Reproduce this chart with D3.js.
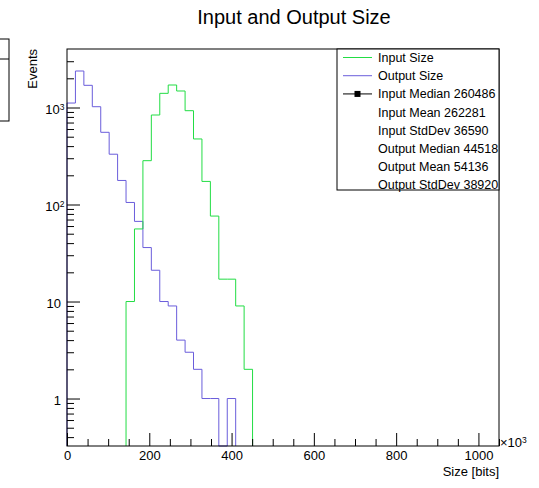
<!DOCTYPE html>
<html>
<head>
<meta charset="utf-8">
<script src="https://cdn.jsdelivr.net/npm/d3@7"></script>
<style>
  body { margin: 0; background: #fff; }
  svg { font-family: "Liberation Sans", Arial, sans-serif; }
</style>
</head>
<body>
<div id="chart"></div>
<script>
// histogram bins, x in thousands of bits
const binWidth = 20.5;
const outputStart = 0;   // first bin index
const outputCounts = [1112, 2378, 1693, 1019, 555, 330, 177, 105, 67, 36, 21, 10, 9, 4, 3, 2, 1, 1, 0, 1];
const inputStart = 7;
const inputCounts = [10, 56, 283, 837, 1400, 1706, 1480, 927, 474, 173, 76, 17, 17, 9, 2];

const xMajorTicks = [0, 200, 400, 600, 800, 1000];
const yMajorTicks = [1, 10, 100, 1000];
const yTickLabels = ["1", "10", "10|2", "10|3"];

const legendEntries = [
  { label: "Input Size", kind: "line", color: "#22dd44" },
  { label: "Output Size", kind: "line", color: "#6a5ddb" },
  { label: "Input Median 260486", kind: "marker", color: "#000" },
  { label: "Input Mean 262281", kind: "none" },
  { label: "Input StdDev 36590", kind: "none" },
  { label: "Output Median 44518", kind: "none" },
  { label: "Output Mean 54136", kind: "none" },
  { label: "Output StdDev 38920", kind: "none" }
];

const width = 539, height = 488;
const frame = { left: 67, right: 499, top: 49, bottom: 446 };

const svg = d3.select("#chart").append("svg")
  .attr("width", width)
  .attr("height", height);

const x = d3.scaleLinear().domain([0, 1050]).range([frame.left, frame.right]);
const y = d3.scaleLog().domain([0.324, 4010]).range([frame.bottom, frame.top]);

// Title
svg.append("text")
  .attr("x", 294).attr("y", 24)
  .attr("text-anchor", "middle")
  .style("font-size", "20px")
  .text("Input and Output Size");

// piece of a stats box cut off at the left edge
svg.append("rect")
  .attr("x", -2).attr("y", 39).attr("width", 11).attr("height", 82)
  .attr("fill", "#fff").attr("stroke", "#000");
svg.append("line")
  .attr("x1", 0).attr("x2", 9).attr("y1", 59).attr("y2", 59)
  .attr("stroke", "#000");

// step path for a histogram
function stepPath(start, counts) {
  const yb = frame.bottom;
  const pts = [[x(start * binWidth), yb]];
  counts.forEach((c, i) => {
    const lo = (start + i) * binWidth, hi = lo + binWidth;
    const yy = c > 0 ? y(c) : yb;
    pts.push([x(lo), yy], [x(hi), yy]);
  });
  pts.push([x((start + counts.length) * binWidth), yb]);
  return d3.line()(pts);
}

svg.append("path")
  .attr("d", stepPath(outputStart, outputCounts))
  .attr("fill", "none")
  .attr("stroke", "#6a5ddb")
  .attr("stroke-width", 1);

svg.append("path")
  .attr("d", stepPath(inputStart, inputCounts))
  .attr("fill", "none")
  .attr("stroke", "#22dd44")
  .attr("stroke-width", 1);

// X axis: ticks point up into the frame
const xMinor = d3.range(0, 1051, 50).filter(d => !xMajorTicks.includes(d));
svg.append("g")
  .attr("transform", `translate(0,${frame.bottom})`)
  .call(d3.axisBottom(x).tickValues(xMinor).tickSize(-7).tickFormat(""))
  .call(g => g.select(".domain").remove());
svg.append("g")
  .attr("transform", `translate(0,${frame.bottom})`)
  .call(d3.axisBottom(x).tickValues(xMajorTicks).tickSize(-13).tickPadding(5).tickFormat(d3.format("d")))
  .call(g => g.select(".domain").remove())
  .call(g => g.selectAll("text").style("font-size", "13px").attr("fill", "#000"));

// Y axis
const yMinor = [];
[0.1, 1, 10, 100, 1000].forEach(dec => {
  for (let k = 2; k <= 9; k++) {
    const v = dec * k;
    if (v > 0.324 && v < 3990) yMinor.push(v);
  }
});
svg.append("g")
  .attr("transform", `translate(${frame.left},0)`)
  .call(d3.axisLeft(y).tickValues(yMinor).tickSize(-7).tickFormat(""))
  .call(g => g.select(".domain").remove());
const yAxis = svg.append("g")
  .attr("transform", `translate(${frame.left},0)`)
  .call(d3.axisLeft(y).tickValues(yMajorTicks).tickSize(-13).tickPadding(5).tickFormat(""))
  .call(g => g.select(".domain").remove());
yAxis.selectAll(".tick text").each(function (d, i) {
  const parts = yTickLabels[i].split("|");
  const t = d3.select(this)
    .attr("fill", "#000")
    .attr("x", parts.length > 1 ? -2.5 : -6)
    .attr("dy", "0.45em")
    .style("font-size", "13px");
  t.append("tspan").text(parts[0]);
  if (parts.length > 1) {
    t.append("tspan").attr("dy", "-0.5em").style("font-size", "8.5px").text(parts[1]);
  }
});

// frame
svg.append("rect")
  .attr("x", frame.left).attr("y", frame.top)
  .attr("width", frame.right - frame.left).attr("height", frame.bottom - frame.top)
  .attr("fill", "none").attr("stroke", "#000");

// axis titles
svg.append("text")
  .attr("transform", `translate(37,${frame.top}) rotate(-90)`)
  .attr("text-anchor", "end")
  .style("font-size", "13px")
  .text("Events");

svg.append("text")
  .attr("x", frame.right).attr("y", 476)
  .attr("text-anchor", "end")
  .style("font-size", "13px")
  .text("Size [bits]");

const expo = svg.append("text")
  .attr("x", frame.right + 1).attr("y", 447)
  .style("font-size", "13px");
expo.append("tspan").text("\u00d710");
expo.append("tspan").attr("dy", "-0.45em").style("font-size", "8.5px").text("3");

// legend
const legend = { left: 337, right: frame.right, top: frame.top, bottom: 190 };
svg.append("rect")
  .attr("x", legend.left).attr("y", legend.top)
  .attr("width", legend.right - legend.left).attr("height", legend.bottom - legend.top)
  .attr("fill", "#fff").attr("stroke", "#000");

const ly = d3.scalePoint()
  .domain(legendEntries.map(d => d.label))
  .range([57.5, 185]);

const items = svg.append("g").selectAll("g")
  .data(legendEntries)
  .join("g")
  .attr("transform", d => `translate(0,${ly(d.label)})`);

items.filter(d => d.kind !== "none")
  .append("line")
  .attr("x1", 343).attr("x2", 372)
  .attr("stroke", d => d.color);

items.filter(d => d.kind === "marker")
  .append("rect")
  .attr("x", 354.5).attr("y", -3).attr("width", 6).attr("height", 6)
  .attr("fill", "#000");

items.append("text")
  .attr("x", 378).attr("dy", "0.35em")
  .style("font-size", "12.5px")
  .text(d => d.label);
</script>
</body>
</html>
